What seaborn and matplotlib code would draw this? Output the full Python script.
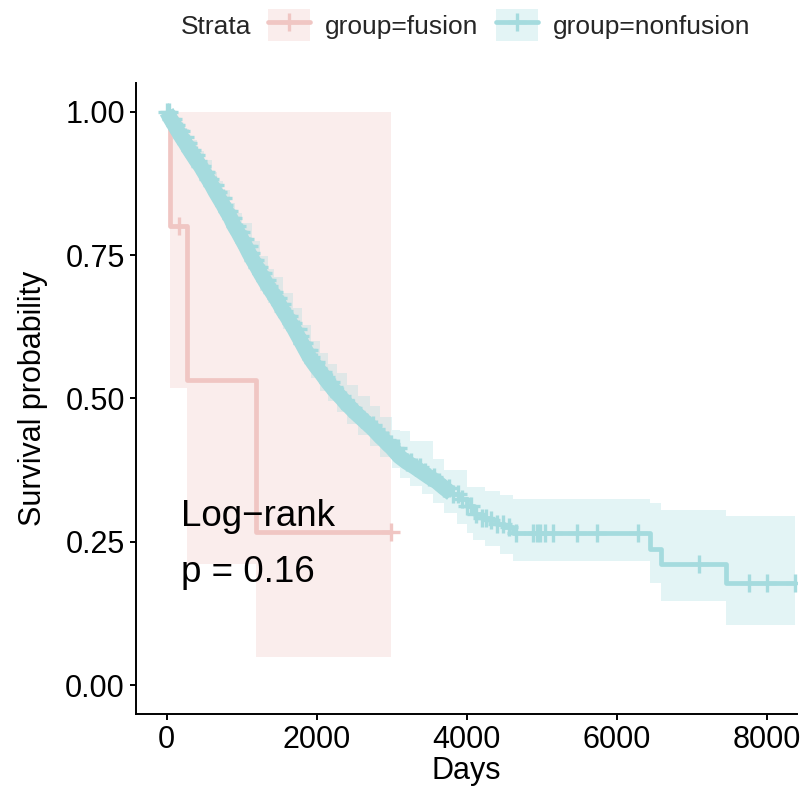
import numpy as np
import pandas as pd
import matplotlib
matplotlib.use("Agg")
import matplotlib.pyplot as plt
from matplotlib.patches import Patch
from matplotlib.lines import Line2D
import seaborn as sns

# ---- data ----
groups = ["group=fusion", "group=nonfusion"]

# fusion arm: curve, confidence band, censor times
f_time = [0, 44, 266, 1187, 2990]
f_surv = [1.0, 0.8, 0.533, 0.267, 0.267]
f_lower = [1.0, 0.519, 0.211, 0.050, 0.050]
f_upper = [1.0, 1.0, 1.0, 1.0, 1.0]
f_censor = [168, 2990]

# nonfusion arm: survival curve
nf_time = [0, 50, 100, 150, 200, 250, 300, 350, 400, 450, 500, 550, 600, 650, 700, 750,
           800, 850, 900, 950, 1000, 1050, 1100, 1150, 1200, 1250, 1300, 1350, 1400, 1450,
           1500, 1550, 1600, 1650, 1700, 1750, 1800, 1850, 1900, 1950, 2000, 2050, 2100,
           2150, 2200, 2250, 2300, 2350, 2400, 2450, 2500, 2550, 2600, 2650, 2700, 2750,
           2800, 2850, 2900, 2950, 3000, 3100, 3200, 3300, 3400, 3500, 3600, 3700, 3800,
           3900, 4000, 4100, 4200, 4300, 4400, 4500, 4622, 6444, 6587, 7457, 8377]
nf_surv = [1.000, 0.988, 0.977, 0.966, 0.955, 0.945, 0.934, 0.924, 0.914, 0.905, 0.894,
           0.883, 0.872, 0.860, 0.849, 0.838, 0.826, 0.815, 0.801, 0.790, 0.778, 0.766,
           0.753, 0.741, 0.730, 0.718, 0.707, 0.696, 0.686, 0.676, 0.665, 0.653, 0.643,
           0.632, 0.621, 0.609, 0.597, 0.585, 0.573, 0.563, 0.554, 0.546, 0.537, 0.528,
           0.520, 0.512, 0.505, 0.498, 0.490, 0.484, 0.477, 0.471, 0.465, 0.459, 0.453,
           0.447, 0.440, 0.433, 0.427, 0.420, 0.414, 0.399, 0.389, 0.381, 0.372, 0.363,
           0.355, 0.344, 0.334, 0.324, 0.312, 0.298, 0.292, 0.288, 0.282, 0.276, 0.265,
           0.237, 0.212, 0.178, 0.178]

# nonfusion arm: confidence band (read at its own breakpoints)
nf_band_time = [0, 50, 120, 200, 300, 408, 500, 600, 667, 750, 850, 911, 1000, 1133, 1250,
                1350, 1431, 1550, 1680, 1800, 1920, 2050, 2150, 2267, 2400, 2550, 2711, 2850,
                3000, 3111, 3250, 3400, 3555, 3700, 3867, 4000, 4089, 4250, 4444, 4622, 6444,
                6587, 7457, 8377]
nf_lower = [1.000, 0.981, 0.961, 0.941, 0.917, 0.894, 0.873, 0.849, 0.831, 0.813, 0.789,
            0.770, 0.750, 0.716, 0.688, 0.666, 0.649, 0.622, 0.594, 0.565, 0.535, 0.513,
            0.495, 0.476, 0.456, 0.437, 0.417, 0.398, 0.378, 0.362, 0.348, 0.333, 0.318,
            0.300, 0.282, 0.265, 0.254, 0.243, 0.229, 0.216, 0.179, 0.147, 0.105, 0.105]
nf_upper = [1.000, 0.995, 0.983, 0.969, 0.951, 0.932, 0.915, 0.895, 0.879, 0.863, 0.841,
            0.824, 0.806, 0.774, 0.748, 0.726, 0.711, 0.684, 0.658, 0.629, 0.601, 0.579,
            0.561, 0.544, 0.524, 0.505, 0.487, 0.468, 0.445, 0.443, 0.426, 0.426, 0.394,
            0.376, 0.376, 0.346, 0.346, 0.339, 0.331, 0.324, 0.317, 0.305, 0.295, 0.295]

nf_censor = [10, 35, 60, 85, 110, 130, 160, 185, 210, 240, 260, 290, 315, 340, 370, 395,
             420, 450, 475, 505, 530, 555, 580, 610, 640, 665, 690, 720, 745, 770, 800,
             830, 855, 880, 905, 935, 960, 985, 1015, 1045, 1070, 1095, 1125, 1150, 1180,
             1205, 1230, 1260, 1290, 1315, 1340, 1370, 1400, 1425, 1455, 1485, 1510, 1540,
             1570, 1600, 1630, 1655, 1685, 1715, 1745, 1775, 1805, 1835, 1865, 1895, 1925,
             1955, 1990, 2020, 2055, 2090, 2120, 2155, 2190, 2225, 2260, 2300, 2335, 2375,
             2410, 2450, 2490, 2530, 2570, 2610, 2655, 2700, 2745, 2790, 2840, 2890, 2940,
             2990, 3040, 3090, 3150, 3200, 3260, 3320, 3380, 3440, 3500, 3570, 3630, 3700,
             3760, 3820, 3880, 3940, 4000, 4060, 4130, 4200, 4260, 4330, 4400, 4480, 4560,
             4653, 4889, 4933, 4977, 5044, 5155, 5475, 5733, 6280, 7101, 7768, 7999, 8377]

# the densely censored stretch draws as a solid ribbon up to about this day
dense_until = 3800

x_ticks = [0, 2000, 4000, 6000, 8000]
y_ticks = [0.00, 0.25, 0.50, 0.75, 1.00]
pval_lines = ["Log\u2212rank", "p = 0.16"]

line_colors = ["#F0C6C3", "#A5DBDE"]

# ---- tidy frames ----
curves = pd.concat([
    pd.DataFrame({"time": f_time, "surv": f_surv, "group": groups[0]}),
    pd.DataFrame({"time": nf_time, "surv": nf_surv, "group": groups[1]}),
])
bands = {
    groups[0]: pd.DataFrame({"time": f_time, "lower": f_lower, "upper": f_upper}),
    groups[1]: pd.DataFrame({"time": nf_band_time, "lower": nf_lower, "upper": nf_upper}),
}


def surv_at(times, t_steps, s_steps):
    idx = np.searchsorted(t_steps, times, side="right") - 1
    return np.asarray(s_steps)[idx]


censors = pd.concat([
    pd.DataFrame({"time": f_censor, "surv": surv_at(f_censor, f_time, f_surv), "group": groups[0]}),
    pd.DataFrame({"time": nf_censor, "surv": surv_at(nf_censor, nf_time, nf_surv), "group": groups[1]}),
])
dense = curves[(curves["group"] == groups[1]) & (curves["time"] <= dense_until)]

# ---- style ----
sns.set_theme(style="ticks")
plt.rcParams["font.family"] = ["Liberation Sans", "DejaVu Sans"]

W, H = 804, 788
fig = plt.figure(figsize=(W / 100, H / 100), dpi=100)
ax = fig.add_axes([136 / W, (H - 714) / H, (797 - 136) / W, (714 - 83) / H])

palette = dict(zip(groups, line_colors))
LW = 3.4
MS = 13.5
MEW = 2.4

# confidence bands
for g in groups:
    d = bands[g]
    ax.fill_between(d["time"], d["lower"], d["upper"], step="post",
                    color=palette[g], alpha=0.3, linewidth=0, zorder=1)

# survival curves
sns.lineplot(data=curves, x="time", y="surv", hue="group", palette=palette,
             estimator=None, sort=False, drawstyle="steps-post", linewidth=LW,
             legend=False, ax=ax, zorder=3)

# overlapping censor marks merge into a ribbon where censoring is dense
sns.lineplot(data=dense, x="time", y="surv", color=palette[groups[1]],
             estimator=None, sort=False, linewidth=11, solid_capstyle="butt",
             legend=False, ax=ax, zorder=4)

# censor marks
for g in groups:
    d = censors[censors["group"] == g]
    ax.plot(d["time"], d["surv"], linestyle="none", marker="+", markersize=MS,
            markeredgewidth=MEW, color=palette[g], zorder=5)

ax.set_xlim(-409, 8404)
ax.set_ylim(-0.05, 1.05)
ax.set_xticks(x_ticks)
ax.set_yticks(y_ticks)
ax.set_yticklabels([f"{v:.2f}" for v in y_ticks])
ax.tick_params(axis="both", labelsize=22, length=4.5, width=1.4, color="black",
               labelcolor="black", pad=3.5)
for s in ["top", "right"]:
    ax.spines[s].set_visible(False)
for s in ["left", "bottom"]:
    ax.spines[s].set_color("black")
    ax.spines[s].set_linewidth(1.4)

ax.set_xlabel("Days", fontsize=22, color="black", labelpad=1)
ax.set_ylabel("Survival probability", fontsize=22, color="black", labelpad=12)

# p-value annotation
ax.text(190, 0.294, pval_lines[0], fontsize=26.5, va="center", ha="left", color="black")
ax.text(190, 0.196, pval_lines[1], fontsize=26.5, va="center", ha="left", color="black")

# legend at the top
handles = []
for g in groups:
    handles.append((Patch(facecolor=palette[g], alpha=0.3, edgecolor="none"),
                    Line2D([], [], color=palette[g], linewidth=LW, marker="+",
                           markersize=MS, markeredgewidth=MEW)))
fig.text(181 / W, 1 - 27 / H, "Strata", fontsize=19, va="center", ha="left")
fig.legend(handles, groups, loc="center left", bbox_to_anchor=(268 / W, 1 - 25 / H),
           ncol=2, frameon=False, fontsize=19, handlelength=1.6, handleheight=1.45,
           handletextpad=0.57, columnspacing=0.64, borderpad=0, borderaxespad=0)

fig.savefig("out.png", dpi=100)
